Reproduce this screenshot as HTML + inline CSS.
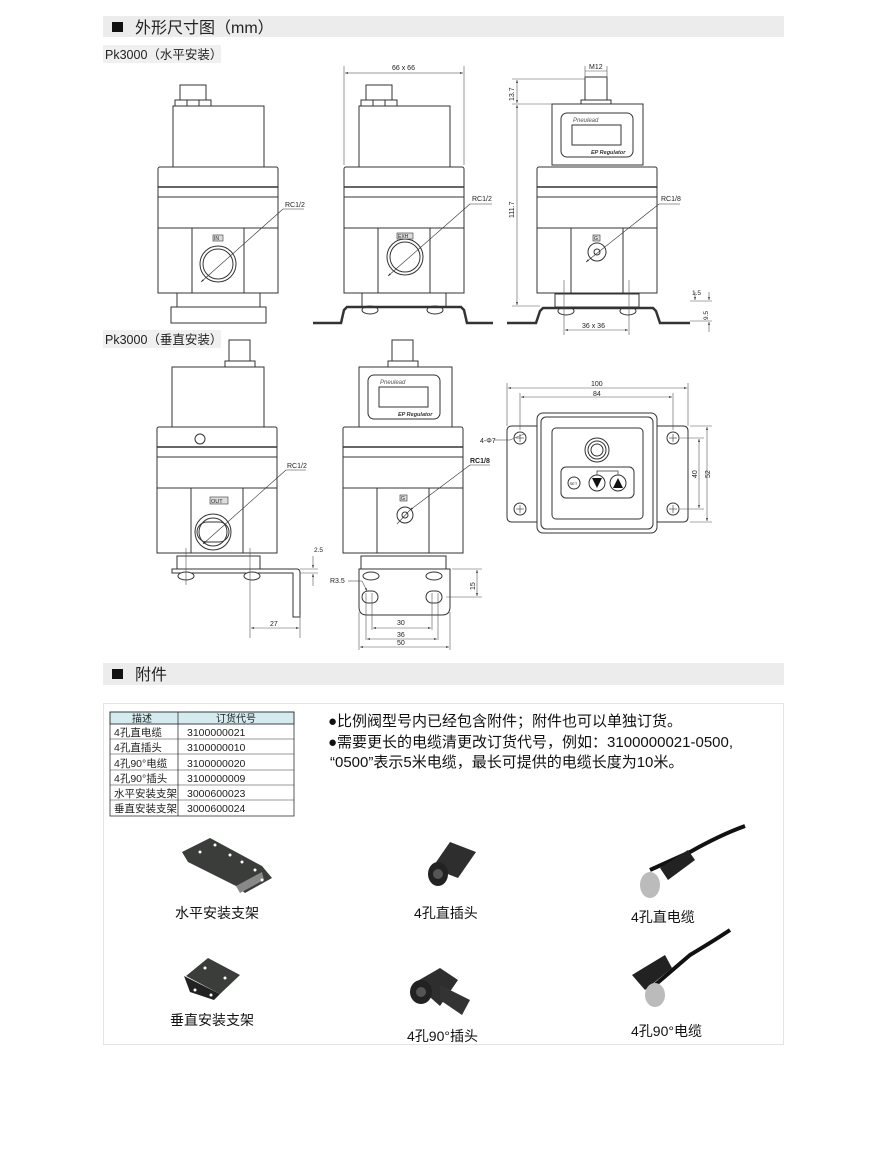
<!DOCTYPE html>
<html><head><meta charset="utf-8"><style>
html,body{margin:0;padding:0;background:#fff;}
body{width:890px;height:1147px;position:relative;overflow:hidden;font-family:"Liberation Sans","Noto Sans CJK SC",sans-serif;}
svg text{font-family:"Liberation Sans","Noto Sans CJK SC",sans-serif;}
</style></head><body>
<svg width="890" height="1147" viewBox="0 0 890 1147" xmlns="http://www.w3.org/2000/svg">
<defs>
<marker id="ar" viewBox="0 0 10 10" refX="10" refY="5" markerWidth="5" markerHeight="5" orient="auto-start-reverse"><path d="M0,2L10,5L0,8z" fill="#222"/></marker>
<g id="body" fill="#fff" stroke="#333" stroke-width="1">
 <rect x="0" y="167" width="120" height="126" rx="2"/>
 <line x1="0" y1="187" x2="120" y2="187" stroke-width="1.6"/>
 <line x1="0" y1="197" x2="120" y2="197"/>
 <line x1="0" y1="228" x2="120" y2="228"/>
 <rect x="0" y="228" width="34" height="65"/>
 <rect x="86" y="228" width="34" height="65"/>
</g>
<g id="cap" fill="#fff" stroke="#333" stroke-width="1">
 <rect x="22" y="85" width="26" height="16"/>
 <rect x="17" y="100" width="36" height="6"/>
 <line x1="29" y1="100" x2="29" y2="106"/><line x1="41" y1="100" x2="41" y2="106"/>
 <rect x="15" y="106" width="91" height="61"/>
</g>
<g id="disp" fill="#fff" stroke="#333" stroke-width="1">
 <rect x="0" y="0" width="72" height="44" rx="6"/>
 <rect x="11" y="12" width="49" height="20"/>
 <text x="12" y="9" font-size="6" font-style="italic" fill="#555" stroke="none">Pneulead</text>
 <text x="30" y="41" font-size="5.5" font-style="italic" font-weight="bold" fill="#333" stroke="none">EP Regulator</text>
</g>
</defs>

<rect x="103" y="16" width="681" height="21" fill="#ececec"/>
<rect x="112" y="22" width="11" height="10" fill="#111"/>
<text x="135" y="33" font-size="16" fill="#222">外形尺寸图（mm）</text>
<rect x="103" y="45" width="118" height="18" fill="#f0f0f0"/>
<text x="105" y="59" font-size="12.5" fill="#222">Pk3000（水平安装）</text>

<g transform="translate(158,0)"><use href="#cap"/><use href="#body"/></g>
<g fill="#fff" stroke="#333">
<rect x="177" y="293" width="83" height="14"/>
<rect x="171" y="307" width="95" height="16"/>
<circle cx="218" cy="264" r="18"/><circle cx="218" cy="264" r="15"/>
<rect x="213" y="235" width="10" height="6" fill="#ddd" stroke-width="0.6"/>
</g>
<text x="214" y="240" font-size="5" fill="#222">IN</text>
<line x1="283" y1="209" x2="304" y2="209" stroke="#333" stroke-width="0.6"/>
<line x1="283" y1="209" x2="201" y2="282" stroke="#333" stroke-width="0.6" marker-end="url(#ar)"/>
<text x="285" y="207" font-size="7" fill="#222">RC1/2</text>

<g transform="translate(344,0)"><use href="#cap"/><use href="#body"/></g>
<g fill="#fff" stroke="#333">
<rect x="362" y="293" width="84" height="14"/>
<ellipse cx="370" cy="310" rx="8" ry="4"/><ellipse cx="435" cy="310" rx="8" ry="4"/>
<path d="M313,323 L341,323 L344,310 L347,307 L461,307 L464,310 L467,323 L493,323" fill="none" stroke-width="2.5"/>
<circle cx="405" cy="257" r="18"/><circle cx="405" cy="257" r="15"/>
<rect x="397" y="233" width="16" height="6" fill="#ddd" stroke-width="0.6"/>
</g>
<text x="398" y="238" font-size="5" fill="#222">EXH</text>
<line x1="470" y1="204" x2="492" y2="204" stroke="#333" stroke-width="0.6"/>
<line x1="470" y1="204" x2="388" y2="276" stroke="#333" stroke-width="0.6" marker-end="url(#ar)"/>
<text x="472" y="201" font-size="7" fill="#222">RC1/2</text>
<line x1="344" y1="66" x2="344" y2="165" stroke="#555" stroke-width="0.6"/>
<line x1="464" y1="66" x2="464" y2="165" stroke="#555" stroke-width="0.6"/>
<line x1="345" y1="73" x2="463" y2="73" stroke="#333" stroke-width="0.6" marker-start="url(#ar)" marker-end="url(#ar)"/>
<text x="392" y="70" font-size="7" fill="#222">66 x 66</text>

<g fill="#fff" stroke="#333">
<rect x="585" y="77" width="22" height="24"/>
<rect x="581" y="100" width="30" height="5"/>
<rect x="552" y="104" width="91" height="61"/>
</g>
<g transform="translate(561,113)"><use href="#disp"/></g>
<g transform="translate(537,0)"><use href="#body"/></g>
<g fill="#fff" stroke="#333">
<rect x="555" y="294" width="84" height="13"/>
<ellipse cx="566" cy="311" rx="8" ry="4"/><ellipse cx="628" cy="311" rx="8" ry="4"/>
<path d="M507,323 L536,323 L540,311 L543,308 L653,308 L656,311 L660,323 L690,323" fill="none" stroke-width="2.5"/>
<circle cx="597" cy="252" r="9"/><circle cx="597" cy="252" r="3"/>
<rect x="593" y="235" width="7" height="6" fill="#ddd" stroke-width="0.6"/>
</g>
<text x="594" y="240" font-size="5" fill="#222">G</text>
<line x1="659" y1="204" x2="680" y2="204" stroke="#333" stroke-width="0.6"/>
<line x1="659" y1="204" x2="586" y2="262" stroke="#333" stroke-width="0.6" marker-end="url(#ar)"/>
<text x="661" y="201" font-size="7" fill="#222">RC1/8</text>
<g stroke="#555" stroke-width="0.6" fill="none">
<line x1="585" y1="66" x2="585" y2="78"/><line x1="607" y1="66" x2="607" y2="78"/>
<line x1="585" y1="71" x2="607" y2="71"/>
<line x1="512" y1="79" x2="585" y2="79"/><line x1="512" y1="104" x2="552" y2="104"/>
<line x1="512" y1="306" x2="540" y2="306"/>
<line x1="517" y1="80" x2="517" y2="103" marker-start="url(#ar)" marker-end="url(#ar)"/>
<line x1="517" y1="105" x2="517" y2="305" marker-start="url(#ar)" marker-end="url(#ar)"/>
<line x1="564" y1="280" x2="564" y2="335"/><line x1="629" y1="280" x2="629" y2="335"/>
<line x1="565" y1="330" x2="628" y2="330" marker-start="url(#ar)" marker-end="url(#ar)"/>
<line x1="690" y1="301" x2="712" y2="301"/><line x1="690" y1="321" x2="712" y2="321"/>
<line x1="695" y1="292" x2="695" y2="300" marker-end="url(#ar)"/>
<line x1="709" y1="292" x2="709" y2="300" marker-end="url(#ar)"/>
<line x1="709" y1="332" x2="709" y2="322" marker-end="url(#ar)"/>
</g>
<text x="589" y="69" font-size="7" fill="#222">M12</text>
<text x="514" y="101" font-size="7" fill="#222" transform="rotate(-90 514 101)">13.7</text>
<text x="514" y="218" font-size="7" fill="#222" transform="rotate(-90 514 218)">111.7</text>
<text x="582" y="328" font-size="7" fill="#222">36 x 36</text>
<text x="692" y="295" font-size="6.5" fill="#222">1.5</text>
<text x="708" y="320" font-size="6.5" fill="#222" transform="rotate(-90 708 320)">9.5</text>

<rect x="103" y="330" width="118" height="18" fill="#f0f0f0"/>
<text x="105" y="344" font-size="12.5" fill="#222">Pk3000（垂直安装）</text>

<g transform="translate(157,260)"><use href="#body"/></g>
<g fill="#fff" stroke="#333">
<rect x="229" y="340" width="21" height="22"/>
<rect x="225" y="361" width="30" height="6"/>
<rect x="172" y="367" width="92" height="60"/>
<circle cx="200" cy="439" r="5"/>
<circle cx="213" cy="532" r="18"/><circle cx="213" cy="532" r="14"/>
<path d="M207,522 a10,10 0 0 0 0,20 M219,522 a10,10 0 0 1 0,20 M207,522 L219,522 M207,542 L219,542" fill="none"/>
<rect x="210" y="497" width="18" height="7" fill="#ddd" stroke-width="0.6"/>
<rect x="177" y="556" width="83" height="13"/>
<path d="M172,569 L297,569 Q300,569 300,573 L300,617 L293,617 L293,573 L172,573 Z" stroke-width="1"/>
<ellipse cx="186" cy="576" rx="8" ry="4"/><ellipse cx="252" cy="576" rx="8" ry="4"/>
</g>
<text x="211" y="503" font-size="5.5" fill="#222">OUT</text>
<line x1="286" y1="470" x2="306" y2="470" stroke="#333" stroke-width="0.6"/>
<line x1="286" y1="470" x2="203" y2="544" stroke="#333" stroke-width="0.6" marker-end="url(#ar)"/>
<text x="287" y="468" font-size="7" fill="#222">RC1/2</text>
<g stroke="#555" stroke-width="0.6" fill="none">
<line x1="186" y1="548" x2="186" y2="585"/><line x1="250" y1="548" x2="250" y2="638"/>
<line x1="300" y1="615" x2="300" y2="638"/>
<line x1="251" y1="628" x2="299" y2="628" marker-start="url(#ar)" marker-end="url(#ar)"/>
<line x1="300" y1="569" x2="318" y2="569"/><line x1="300" y1="573" x2="318" y2="573"/>
<line x1="313" y1="556" x2="313" y2="568" marker-end="url(#ar)"/>
<line x1="313" y1="586" x2="313" y2="574" marker-end="url(#ar)"/>
</g>
<text x="270" y="626" font-size="7" fill="#222">27</text>
<text x="314" y="552" font-size="6.5" fill="#222">2.5</text>

<g transform="translate(343,260)"><use href="#body"/></g>
<g fill="#fff" stroke="#333">
<rect x="392" y="340" width="21" height="22"/>
<rect x="388" y="361" width="30" height="6"/>
<rect x="359" y="367" width="93" height="60"/>
</g>
<g transform="translate(368,375)"><use href="#disp"/></g>
<g fill="#fff" stroke="#333">
<circle cx="405" cy="515" r="8"/><circle cx="405" cy="515" r="3"/>
<rect x="400" y="495" width="7" height="6" fill="#ddd" stroke-width="0.6"/>
<rect x="361" y="556" width="85" height="13"/>
<path d="M359,569 L450,569 L450,607 Q450,615 442,615 L367,615 Q359,615 359,607 Z"/>
<ellipse cx="371" cy="576" rx="8" ry="4"/><ellipse cx="434" cy="576" rx="8" ry="4"/>
<rect x="362" y="591" width="16" height="12" rx="6"/><rect x="426" y="591" width="16" height="12" rx="6"/>
</g>
<text x="401" y="500" font-size="5" fill="#222">G</text>
<line x1="470" y1="465" x2="490" y2="465" stroke="#333" stroke-width="0.6"/>
<line x1="470" y1="465" x2="410" y2="510" stroke="#333" stroke-width="0.6" marker-end="url(#ar)"/>
<line x1="410" y1="510" x2="397" y2="524" stroke="#333" stroke-width="0.6"/>
<text x="470" y="463" font-size="7" font-weight="bold" fill="#222">RC1/8</text>
<g stroke="#555" stroke-width="0.6" fill="none">
<line x1="366" y1="593" x2="366" y2="640"/><line x1="372" y1="593" x2="372" y2="630"/>
<line x1="432" y1="593" x2="432" y2="630"/><line x1="438" y1="593" x2="438" y2="640"/>
<line x1="359" y1="612" x2="359" y2="650"/><line x1="450" y1="612" x2="450" y2="650"/>
<line x1="373" y1="628" x2="431" y2="628" marker-start="url(#ar)" marker-end="url(#ar)"/>
<line x1="367" y1="639" x2="437" y2="639" marker-start="url(#ar)" marker-end="url(#ar)"/>
<line x1="360" y1="647" x2="449" y2="647" marker-start="url(#ar)" marker-end="url(#ar)"/>
<line x1="452" y1="569" x2="482" y2="569"/><line x1="446" y1="597" x2="482" y2="597"/>
<line x1="477" y1="570" x2="477" y2="596" marker-start="url(#ar)" marker-end="url(#ar)"/>
<line x1="348" y1="581" x2="362" y2="581"/><line x1="362" y1="581" x2="367" y2="591" marker-end="url(#ar)"/>
</g>
<text x="397" y="625" font-size="7" fill="#222">30</text>
<text x="397" y="637" font-size="7" fill="#222">36</text>
<text x="397" y="645" font-size="7" fill="#222">50</text>
<text x="475" y="590" font-size="7" fill="#222" transform="rotate(-90 475 590)">15</text>
<text x="330" y="583" font-size="7" fill="#222">R3.5</text>

<g fill="#fff" stroke="#333">
<path d="M512,426 L683,426 Q688,426 688,431 L688,517 Q688,522 683,522 L512,522 Q507,522 507,517 L507,431 Q507,426 512,426 Z"/>
<rect x="537" y="413" width="120" height="120" rx="6"/>
<rect x="541" y="417" width="112" height="112" rx="5"/>
<rect x="552" y="428" width="91" height="91" rx="4"/>
<circle cx="597" cy="450" r="12"/><circle cx="597" cy="450" r="9"/><circle cx="597" cy="450" r="6"/>
<rect x="561" y="467" width="73" height="31" rx="5"/>
<circle cx="574" cy="483" r="6"/><circle cx="597" cy="483" r="8"/><circle cx="618" cy="483" r="8"/>
<circle cx="520" cy="438" r="6"/><circle cx="673" cy="438" r="6"/><circle cx="520" cy="509" r="6"/><circle cx="673" cy="509" r="6"/>
</g>
<path d="M592,478 L602,478 L597,488 Z M613,488 L623,488 L618,478 Z" fill="#111"/>
<text x="569.5" y="485" font-size="4" fill="#222">SET</text>
<path d="M597,475 L597,471 L618,471 L618,475" stroke="#333" stroke-width="0.7" fill="none"/>
<g stroke="#333" stroke-width="0.6">
<line x1="516" y1="438" x2="524" y2="438"/><line x1="520" y1="434" x2="520" y2="442"/>
<line x1="669" y1="438" x2="677" y2="438"/><line x1="673" y1="434" x2="673" y2="442"/>
<line x1="516" y1="509" x2="524" y2="509"/><line x1="520" y1="505" x2="520" y2="513"/>
<line x1="669" y1="509" x2="677" y2="509"/><line x1="673" y1="505" x2="673" y2="513"/>
</g>
<g stroke="#555" stroke-width="0.6" fill="none">
<line x1="507" y1="383" x2="507" y2="426"/><line x1="688" y1="383" x2="688" y2="426"/>
<line x1="520" y1="393" x2="520" y2="430"/><line x1="673" y1="393" x2="673" y2="430"/>
<line x1="508" y1="388" x2="687" y2="388" marker-start="url(#ar)" marker-end="url(#ar)"/>
<line x1="521" y1="397" x2="672" y2="397" marker-start="url(#ar)" marker-end="url(#ar)"/>
<line x1="680" y1="438" x2="704" y2="438"/><line x1="680" y1="509" x2="704" y2="509"/>
<line x1="690" y1="426" x2="712" y2="426"/><line x1="690" y1="522" x2="712" y2="522"/>
<line x1="699" y1="439" x2="699" y2="508" marker-start="url(#ar)" marker-end="url(#ar)"/>
<line x1="707" y1="427" x2="707" y2="521" marker-start="url(#ar)" marker-end="url(#ar)"/>
<line x1="494" y1="440" x2="510" y2="440"/><line x1="510" y1="440" x2="524" y2="434"/>
</g>
<text x="591" y="386" font-size="7" fill="#222">100</text>
<text x="593" y="396" font-size="7" fill="#222">84</text>
<text x="697" y="478" font-size="7" fill="#222" transform="rotate(-90 697 478)">40</text>
<text x="710" y="478" font-size="7" fill="#222" transform="rotate(-90 710 478)">52</text>
<text x="480" y="443" font-size="7" fill="#222">4-Φ7</text>

<rect x="103" y="663" width="681" height="22" fill="#ececec"/>
<rect x="112" y="669" width="11" height="10" fill="#111"/>
<text x="135" y="680" font-size="16" fill="#222">附件</text>

<rect x="103.5" y="703.5" width="680" height="341" fill="#fff" stroke="#e4e4e4"/>
<g font-size="10.5" fill="#222">
<rect x="110" y="712" width="184" height="12" fill="#d4ecf0" stroke="#333" stroke-width="0.8"/>
<rect x="110" y="712" width="184" height="104" fill="none" stroke="#333" stroke-width="0.8"/>
<line x1="178" y1="712" x2="178" y2="816" stroke="#333" stroke-width="0.8"/>
<g stroke="#333" stroke-width="0.6">
<line x1="110" y1="724" x2="294" y2="724"/><line x1="110" y1="739" x2="294" y2="739"/>
<line x1="110" y1="754" x2="294" y2="754"/><line x1="110" y1="770" x2="294" y2="770"/>
<line x1="110" y1="785" x2="294" y2="785"/><line x1="110" y1="800" x2="294" y2="800"/>
</g>
<text x="132" y="722" font-size="10">描述</text><text x="216" y="722" font-size="10">订货代号</text>
<text x="114" y="736">4孔直电缆</text><text x="187" y="736">3100000021</text>
<text x="114" y="751">4孔直插头</text><text x="187" y="751">3100000010</text>
<text x="114" y="767">4孔90°电缆</text><text x="187" y="767">3100000020</text>
<text x="114" y="782">4孔90°插头</text><text x="187" y="782">3100000009</text>
<text x="114" y="797">水平安装支架</text><text x="187" y="797">3000600023</text>
<text x="114" y="812">垂直安装支架</text><text x="187" y="812">3000600024</text>
</g>
<g font-size="15" fill="#111">
<text x="328" y="726">●比例阀型号内已经包含附件；附件也可以单独订货。</text>
<text x="328" y="747">●需要更长的电缆清更改订货代号，例如：3100000021-0500,</text>
<text x="330" y="767">“0500”表示5米电缆，最长可提供的电缆长度为10米。</text>
</g>

<path d="M182,852 L210,838 L262,866 L272,878 L245,893 L236,886 L188,862 Z" fill="#3a3d3a"/>
<path d="M236,886 L262,872 L264,880 L240,893 Z" fill="#888"/>
<g fill="#fff"><circle cx="200" cy="852" r="1.5"/><circle cx="215" cy="845" r="1.5"/><circle cx="230" cy="855" r="1.5"/><circle cx="242" cy="862" r="1.5"/><circle cx="255" cy="870" r="1.5"/><circle cx="262" cy="880" r="1.5"/></g>
<path d="M186,976 L208,958 L240,975 L220,994 Z" fill="#3a3d3a"/>
<path d="M184,976 L190,992 L214,1000 L220,994 Z" fill="#222"/>
<g fill="#fff"><circle cx="205" cy="968" r="1.5"/><circle cx="225" cy="978" r="1.5"/><circle cx="195" cy="990" r="1.5"/><circle cx="211" cy="995" r="1.5"/></g>
<path d="M432,868 L450,842 L476,852 L458,878 Z" fill="#2e2e2e"/>
<ellipse cx="438" cy="874" rx="10" ry="12" fill="#222"/>
<circle cx="438" cy="874" r="5" fill="#555"/>
<path d="M414,983 L440,968 L458,980 L440,1006 Z" fill="#2e2e2e"/>
<path d="M440,985 L470,1000 L462,1015 L440,1000 Z" fill="#333"/>
<ellipse cx="421" cy="992" rx="11" ry="12" fill="#222"/>
<circle cx="421" cy="992" r="5" fill="#555"/>
<path d="M650,870 L690,852 Q720,835 745,826" stroke="#111" stroke-width="4" fill="none"/>
<path d="M660,868 L688,850 L695,860 L668,880 Z" fill="#222"/>
<ellipse cx="650" cy="885" rx="10" ry="13" fill="#bbb"/>
<path d="M655,985 L690,955 Q715,940 730,930" stroke="#111" stroke-width="4" fill="none"/>
<path d="M632,975 L665,955 L672,968 L645,990 Z" fill="#222"/>
<ellipse cx="655" cy="995" rx="10" ry="12" fill="#bbb"/>
<g font-size="14" fill="#111">
<text x="175" y="918">水平安装支架</text>
<text x="414" y="918">4孔直插头</text>
<text x="631" y="922">4孔直电缆</text>
<text x="170" y="1025">垂直安装支架</text>
<text x="407" y="1041">4孔90°插头</text>
<text x="631" y="1036">4孔90°电缆</text>
</g>
</svg>
</body></html>
